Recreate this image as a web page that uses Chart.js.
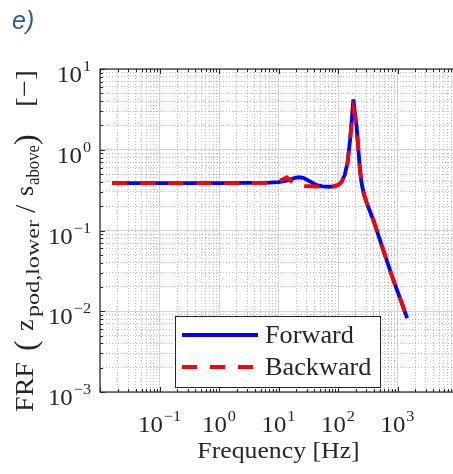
<!DOCTYPE html>
<html>
<head>
<meta charset="utf-8">
<script src="https://cdn.jsdelivr.net/npm/chart.js@4.4.1/dist/chart.umd.min.js"></script>
<style>
  html, body { margin: 0; padding: 0; background: #fff; overflow: hidden; }
  #wrap { position: relative; width: 453px; height: 474px; overflow: hidden; }
  canvas { display: block; }
</style>
</head>
<body>
<div id="wrap"><canvas id="frfChart" width="462" height="474"></canvas></div>
<script>
// FRF of the lower pod w.r.t. the upper structure, frequency sweep up and down
const forwardFreq = [0.016, 0.05, 0.2, 1, 3, 7, 10, 13, 16, 19, 22, 26, 30, 36, 44, 55, 70, 85, 100, 115, 130, 145, 160, 170, 181, 192, 206, 220, 234, 250, 270, 300, 392, 577, 849, 1200, 1450];
const forwardMag = [0.387, 0.387, 0.387, 0.387, 0.388, 0.392, 0.398, 0.41, 0.43, 0.448, 0.456, 0.448, 0.425, 0.395, 0.365, 0.352, 0.348, 0.352, 0.365, 0.40, 0.49, 0.70, 1.35, 2.3, 4.2, 2.9, 1.9, 1.0, 0.56, 0.38, 0.29, 0.225, 0.135, 0.057, 0.0244, 0.0122, 0.0082];

const backwardFreq = [0.016, 0.05, 0.2, 1, 3, 7, 9, 11, 13.7, 16, 19, 25, 36, 50, 70, 85, 100, 115, 130, 145, 160, 170, 181, 192, 206, 220, 234, 250, 270, 300, 392, 577, 849, 1200, 1450];
const backwardMag = [0.387, 0.387, 0.387, 0.387, 0.388, 0.390, 0.40, 0.42, 0.455, 0.41, 0.366, 0.356, 0.353, 0.35, 0.348, 0.352, 0.365, 0.40, 0.49, 0.70, 1.35, 2.3, 3.2, 2.6, 1.9, 1.0, 0.56, 0.38, 0.29, 0.225, 0.135, 0.057, 0.0244, 0.0122, 0.0082];

const seriesNames = ['Forward', 'Backward'];
const xDecades = [-2, -1, 0, 1, 2, 3, 4];
const yDecades = [-3, -2, -1, 0, 1];
const xLabelDecades = [-1, 0, 1, 2, 3];
const yLabelDecades = [-3, -2, -1, 0, 1];

const TEXT = '#262626';
const SERIF = "'Liberation Serif', 'Times New Roman', serif";

function toPoints(xs, ys) {
    return xs.map((x, i) => ({ x: x, y: ys[i] }));
}

// major tick at every decade, minor ticks at 2..9
function decadeTicks(decades) {
    const ticks = [];
    decades.forEach((d, i) => {
        ticks.push({ value: Math.pow(10, d), major: true });
        if (i < decades.length - 1) {
            for (let m = 2; m <= 9; m++) ticks.push({ value: m * Math.pow(10, d), major: false });
        }
    });
    return ticks;
}

function gridOpts() {
    return {
        drawTicks: false,
        color: c => (c.tick && c.tick.major) ? '#d2d2d2' : '#bcbcbc',
        lineWidth: 1
    };
}
function borderOpts() {
    return {
        display: false,
        dash: c => (c.tick && c.tick.major) ? [] : [1, 2]
    };
}

// text squeezed/stretched horizontally
function wideText(ctx, txt, x, y, sx) {
    ctx.save();
    ctx.translate(x, y);
    ctx.scale(sx, 1);
    ctx.fillText(txt, 0, 0);
    ctx.restore();
}

// "10" with superscript exponent
function drawPower(ctx, exp, x, y, align) {
    const sup = exp < 0 ? '\u2212' + (-exp) : String(exp);
    const sx = 1.08;
    ctx.font = '23px ' + SERIF;
    const wb = ctx.measureText('10').width * sx;
    ctx.font = '15px ' + SERIF;
    const ws = ctx.measureText(sup).width * sx;
    const total = wb + 1 + ws;
    const left = align === 'right' ? x - total : x - total / 2;
    ctx.textAlign = 'left';
    ctx.textBaseline = 'alphabetic';
    ctx.font = '23px ' + SERIF;
    wideText(ctx, '10', left, y, sx);
    ctx.font = '15px ' + SERIF;
    wideText(ctx, sup, left + wb + 1, y - 11, sx);
}

const frame = {
    id: 'frame',
    afterDraw(chart) {
        const ctx = chart.ctx;
        const a = chart.chartArea;
        const xs = chart.scales.x, ys = chart.scales.y;
        ctx.save();

        // axes box
        ctx.strokeStyle = TEXT;
        ctx.lineWidth = 1.2;
        ctx.strokeRect(a.left, a.top, a.right - a.left, a.bottom - a.top);

        // inward tick marks
        ctx.lineWidth = 1;
        ctx.beginPath();
        xs.ticks.forEach(t => {
            const px = Math.round(xs.getPixelForValue(t.value)) + 0.5;
            const len = t.major ? 5 : 3;
            ctx.moveTo(px, a.bottom); ctx.lineTo(px, a.bottom - len);
            ctx.moveTo(px, a.top); ctx.lineTo(px, a.top + len);
        });
        ys.ticks.forEach(t => {
            const py = Math.round(ys.getPixelForValue(t.value)) + 0.5;
            const len = t.major ? 5 : 3;
            ctx.moveTo(a.left, py); ctx.lineTo(a.left + len, py);
        });
        ctx.stroke();

        // tick labels
        ctx.fillStyle = TEXT;
        xLabelDecades.forEach(d => {
            drawPower(ctx, d, xs.getPixelForValue(Math.pow(10, d)), 432, 'center');
        });
        yLabelDecades.forEach(d => {
            const py = ys.getPixelForValue(Math.pow(10, d));
            drawPower(ctx, d, 91, py + 13, 'right');
        });

        // x axis title
        ctx.font = '23px ' + SERIF;
        const title = 'Frequency [Hz]';
        const tw = ctx.measureText(title).width * 1.12;
        wideText(ctx, title, (a.left + a.right) / 2 - tw / 2, 458, 1.12);

        // y axis title, runs laid out bottom to top; single glyphs keep their own width
        const runs = [
            { t: 'FRF', from: 412, to: 362, size: 26, dy: 0, fit: true },
            { t: '(', from: 351, size: 32, dy: 3 },
            { t: 'z', from: 331, size: 26, dy: 0 },
            { t: 'pod,lower', from: 317, to: 220, size: 19, dy: 6, fit: true },
            { t: '/', from: 213, size: 30, dy: 2 },
            { t: 's', from: 196, size: 26, dy: 0 },
            { t: 'above', from: 185, to: 145, size: 19, dy: 6, fit: true },
            { t: ')', from: 145, size: 32, dy: 3 },
            { t: '[\u2212]', from: 107, to: 70, size: 26, dy: 0, fit: true }
        ];
        runs.forEach(r => {
            ctx.font = r.size + 'px ' + SERIF;
            const w = ctx.measureText(r.t).width;
            ctx.save();
            ctx.translate(33 + r.dy, r.from);
            ctx.rotate(-Math.PI / 2);
            if (r.fit) ctx.scale((r.from - r.to) / w, 1);
            ctx.fillText(r.t, 0, 0);
            ctx.restore();
        });

        // panel tag
        ctx.fillStyle = '#2d5a97';
        ctx.font = "italic 25px 'Liberation Sans', Arial, sans-serif";
        ctx.fillText('e)', 12, 29);

        // legend
        const lg = { x: 175, y: 316, w: 205, h: 71 };
        ctx.fillStyle = '#ffffff';
        ctx.fillRect(lg.x, lg.y, lg.w, lg.h);
        ctx.strokeStyle = TEXT;
        ctx.lineWidth = 1;
        ctx.strokeRect(lg.x + 0.5, lg.y + 0.5, lg.w, lg.h);
        const rows = [335, 367];
        chart.data.datasets.forEach((ds, i) => {
            ctx.strokeStyle = ds.borderColor;
            ctx.lineWidth = ds.borderWidth;
            ctx.setLineDash(ds.borderDash || []);
            ctx.beginPath();
            ctx.moveTo(182, rows[i]);
            ctx.lineTo(258, rows[i]);
            ctx.stroke();
            ctx.setLineDash([]);
            ctx.fillStyle = TEXT;
            ctx.font = '25px ' + SERIF;
            wideText(ctx, ds.label, 265, rows[i] + 8, 1.05);
        });

        ctx.restore();
    }
};

const ctx = document.getElementById('frfChart').getContext('2d');
new Chart(ctx, {
    type: 'line',
    data: {
        datasets: [
            {
                label: seriesNames[0],
                data: toPoints(forwardFreq, forwardMag),
                borderColor: '#0000ff',
                borderWidth: 3.8,
                pointRadius: 0,
                tension: 0,
                order: 1
            },
            {
                label: seriesNames[1],
                data: toPoints(backwardFreq, backwardMag),
                borderColor: '#ff0000',
                borderWidth: 3.8,
                borderDash: [15, 13],
                pointRadius: 0,
                tension: 0,
                order: 0
            }
        ]
    },
    options: {
        responsive: false,
        animation: false,
        layout: { padding: { left: 100, top: 69, right: 5, bottom: 82 } },
        plugins: {
            legend: { display: false },
            tooltip: { enabled: false }
        },
        scales: {
            x: {
                type: 'logarithmic',
                min: 0.01,
                max: 10000,
                ticks: { display: false, autoSkip: false },
                grid: gridOpts(),
                border: borderOpts(),
                afterBuildTicks: s => { s.ticks = decadeTicks(xDecades); }
            },
            y: {
                type: 'logarithmic',
                min: 0.001,
                max: 10,
                ticks: { display: false, autoSkip: false },
                grid: gridOpts(),
                border: borderOpts(),
                afterBuildTicks: s => { s.ticks = decadeTicks(yDecades); }
            }
        }
    },
    plugins: [frame]
});
</script>
</body>
</html>
